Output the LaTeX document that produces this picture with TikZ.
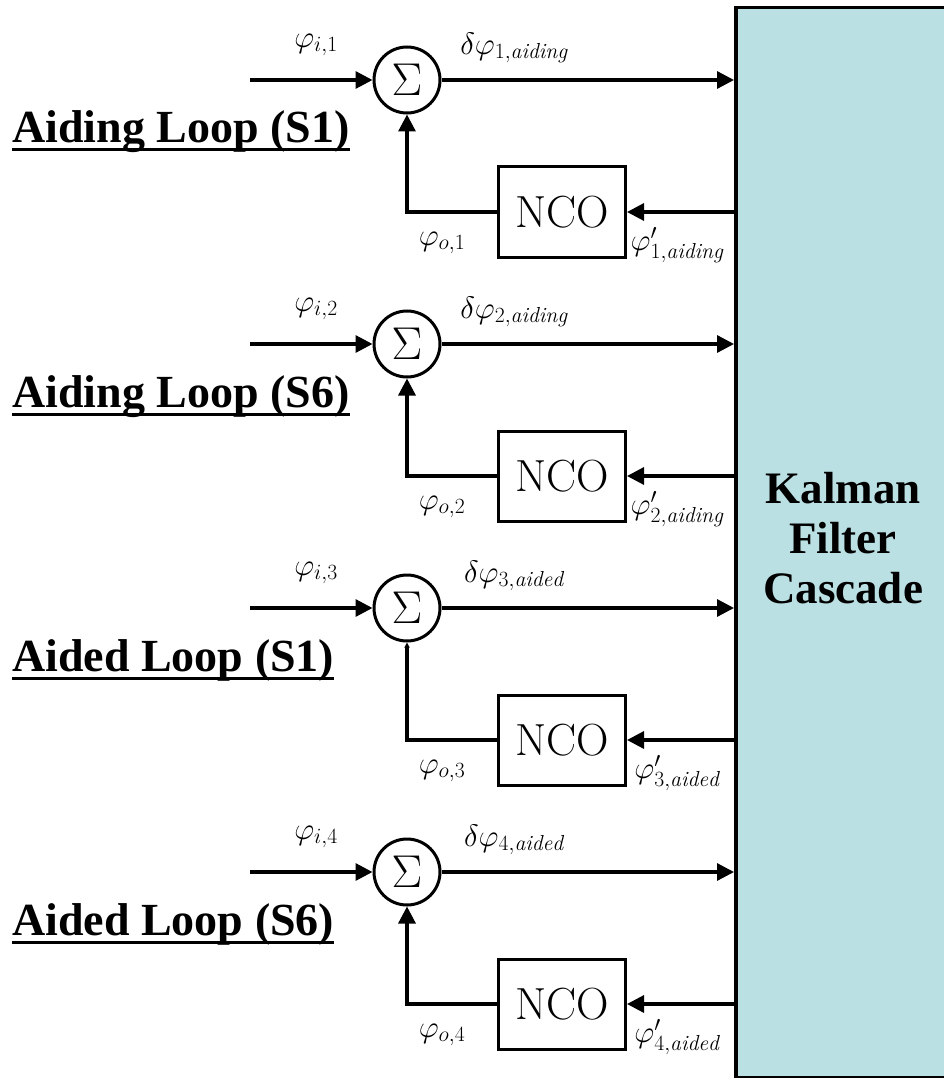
\RequirePackage{fix-cm}
\documentclass[tikz,border=0pt]{standalone}
\usepackage{fontspec}
\newfontfamily\timesfont{Liberation Serif}
\usetikzlibrary{arrows.meta,positioning}
\definecolor{kfblue}{RGB}{186,224,228}
\begin{document}
\begin{tikzpicture}[
  x=1pt, y=-1pt,
  sumnode/.style={draw, circle, line width=3pt, minimum size=66pt,
                  inner sep=0pt, font=\fontsize{46}{48}\selectfont},
  nco/.style={draw, rectangle, line width=3pt,
              minimum width=127pt, minimum height=90pt,
              inner sep=0pt, font=\fontsize{45}{48}\selectfont},
  sig/.style={-{Triangle[length=17pt,width=17pt]}, line width=3.2pt},
  sigsmall/.style={-{Triangle[length=5pt,width=5pt]}, line width=3.2pt},
  lbl/.style={font=\fontsize{31}{34}\selectfont, inner sep=0pt},
  ttl/.style={font=\timesfont\bfseries\fontsize{46}{50}\selectfont,
              anchor=base west, inner sep=0pt},
  kfbox/.style={draw, fill=kfblue, line width=3.5pt, rectangle,
                anchor=north west, inner sep=0pt,
                minimum width=260pt, minimum height=1070pt},
  kftext/.style={font=\timesfont\bfseries\fontsize{45}{50}\selectfont,
                 align=center},
]
\def\sp{264}  % row spacing of the loops
\useasboundingbox (0,0) rectangle (943,1078);
% Kalman filter block on the right
\node[kfbox] (kf) at (734,6) {};
\node[kftext] (kft) at (843,538) {Kalman\\Filter\\Cascade};
% Loops
\foreach \n/\ttltext/\kind/\tip in {
    1/{Aiding Loop (S1)}/aiding/sig,
    2/{Aiding Loop (S6)}/aiding/sig,
    3/{Aided Loop (S1)}/aided/sigsmall,
    4/{Aided Loop (S6)}/aided/sig} {
  \pgfmathsetmacro\yrow{80+\sp*(\n-1)}
  % blocks
  \node[sumnode] (s\n) at (407,\yrow) {$\Sigma$};
  \node[nco] (n\n) at (562,\yrow+132) {NCO};
  \coordinate (in\n) at (250,\yrow);
  % signal lines
  \draw[sig] (in\n) -- (s\n);
  \draw[sig] (s\n) -- (s\n -| kf.west);
  \draw[sig] (n\n -| kf.west) -- (n\n);
  \draw[\tip] (n\n.west) -| (s\n.south);
  % labels
  \node[lbl] (li\n) at (316,\yrow-35) {$\varphi_{i,\n}$};
  \node[lbl] (ld\n) at (514,\yrow-32) {$\delta\varphi_{\n,\mathit{\kind}}$};
  \node[lbl] (lo\n) at (442,\yrow+163) {$\varphi_{o,\n}$};
  \node[lbl] (lp\n) at (677,\yrow+165) {$\varphi'_{\n,\mathit{\kind}}$};
  % loop title
  \node[ttl] (t\n) at (12,\yrow+63) {\ttltext};
  \draw[line width=3pt] ([yshift=-7pt]t\n.base west) -- ([yshift=-7pt]t\n.base east);
}
\end{tikzpicture}
\end{document}
